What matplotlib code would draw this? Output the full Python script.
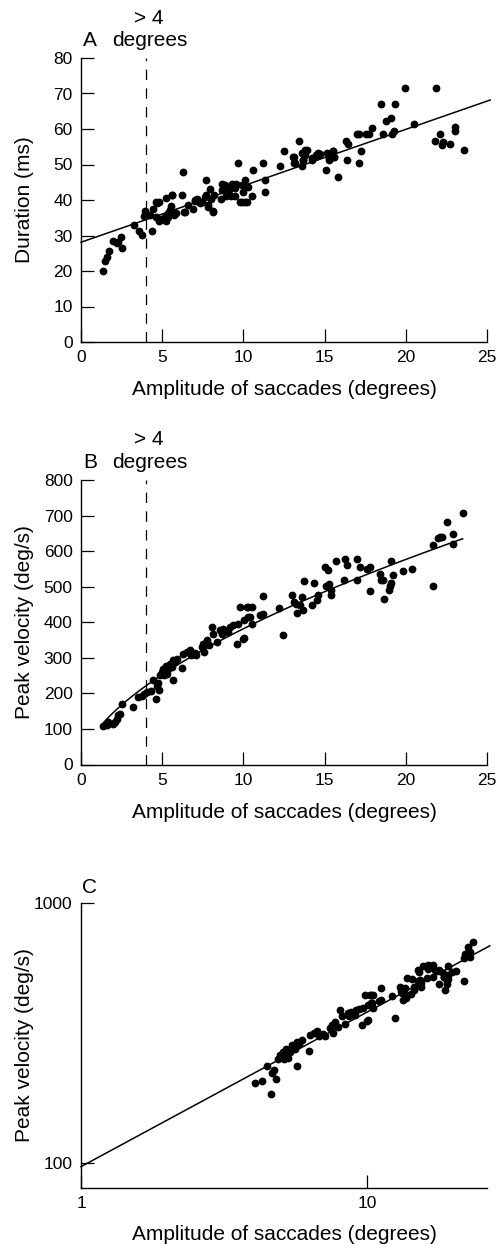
import numpy as np
import matplotlib
matplotlib.use("Agg")
import matplotlib.pyplot as plt
from matplotlib.ticker import FixedLocator, NullLocator, FixedFormatter

plt.rcParams['font.family'] = ['Liberation Sans', 'DejaVu Sans']
plt.rcParams['lines.scale_dashes'] = False

# ---- panel A: duration vs amplitude ----
amp_a = [1.37, 1.48, 1.58, 1.74, 1.99, 2.24, 2.44, 2.52, 2.3, 3.26,
         3.59, 3.73, 3.90, 3.94, 4.39, 4.25, 4.45, 4.6, 4.78, 4.64,
         4.8, 4.95, 5.21, 5.26, 5.36, 5.46, 5.57, 5.63, 5.70, 5.83,
         6.26, 6.24, 6.34, 6.61, 6.9, 7.0, 7.16, 7.42, 7.7, 7.72,
         7.82, 7.93, 8.0, 8.1, 8.2, 8.6, 8.7, 8.74, 8.95, 9.1,
         9.25, 9.46, 9.56, 9.69, 9.8, 9.89, 10.0, 10.1, 10.2, 10.3,
         10.5, 10.6, 11.2, 11.3, 11.35, 12.25, 12.5, 13.1, 13.1, 13.4,
         13.6, 13.7, 13.8, 13.9, 14.2, 14.55, 14.6, 15.1, 15.15, 15.3,
         15.5, 15.6, 15.8, 16.3, 16.4, 16.45, 17.1, 17.1, 17.25,
         4.66, 4.86, 5.17, 5.38, 5.62, 6.4, 7.02, 7.33, 7.64, 7.85,
         8.15, 8.66, 8.87, 9.28, 9.9, 10.1, 9.5,
         19.95, 21.86, 18.49, 19.33, 18.76, 19.09, 20.5, 17.75, 17.9, 18.57,
         19.15, 19.3, 17.0, 17.55, 21.8, 22.1, 22.3, 22.2, 22.7, 23.0,
         23.0, 23.6,
         13.07, 13.2, 13.6, 13.8, 13.7, 14.2, 14.5, 14.7, 15.2, 15.3,
         15.5, 15.6]
dur_a = [20.0, 22.9, 24.0, 25.5, 28.5, 27.8, 29.5, 26.4, 28.3, 33.0,
         31.4, 30.2, 35.6, 37.0, 31.2, 35.9, 37.5, 39.3, 39.3, 35.2,
         34.1, 34.6, 40.5, 34.0, 35.2, 37.2, 38.2, 41.5, 35.8, 36.2,
         47.9, 41.3, 36.7, 38.6, 37.5, 39.8, 40.4, 39.5, 45.5, 41.3,
         38.6, 43.2, 40.4, 36.8, 41.3, 40.4, 44.6, 43.2, 41.1, 42.9,
         41.0, 41.1, 44.6, 50.3, 39.5, 44.1, 42.3, 45.7, 39.5, 43.7,
         41.1, 48.5, 50.3, 42.3, 45.7, 49.5, 53.9, 50.3, 52.2, 56.6,
         49.5, 51.2, 52.6, 54.0, 51.7, 52.4, 53.1, 48.5, 53.1, 51.4,
         53.9, 52.2, 46.6, 56.6, 51.2, 55.9, 50.3, 58.6, 53.9,
         39.1, 34.4, 35.3, 36.3, 41.4, 36.7, 40.0, 39.1, 40.9, 38.1,
         36.7, 42.8, 44.2, 44.6, 39.5, 39.5, 43.3,
         71.5, 71.5, 67.0, 67.0, 62.3, 63.0, 61.5, 58.5, 60.4, 58.6,
         58.6, 59.5, 58.6, 58.5, 56.6, 58.5, 56.4, 55.5, 55.8, 60.6,
         59.3, 54.1,
         52.2, 50.3, 53.1, 54.1, 51.3, 51.3, 52.7, 53.0, 53.0, 51.7,
         53.9, 52.1]
# linear fit for duration
DUR_FIT = (28.1, 1.59)  # intercept, slope

# ---- panel B/C: peak velocity vs amplitude ----
amp_b = [1.37, 1.52, 1.68, 1.6, 1.99, 2.1, 2.2, 2.3, 2.4, 2.55,
         3.22, 3.53, 3.74, 3.9, 4.04, 4.3, 4.45, 4.6, 4.66, 4.72,
         4.8, 4.86, 4.97, 5.07, 5.13, 5.21, 5.27, 5.38, 5.48, 5.58,
         5.69, 5.79, 5.69, 5.9, 6.24, 6.3, 6.5, 6.7, 6.8, 7.0,
         7.1, 7.43, 7.53, 7.6, 7.74, 7.88, 8.05, 8.15, 8.36, 8.56,
         8.66, 8.76, 9.07, 9.17, 9.38, 9.59, 9.69, 9.79, 10.0, 10.06,
         10.3, 10.3, 10.2,
         23.5, 22.56, 22.1, 22.2, 22.0, 22.9, 22.9, 21.7, 21.7, 20.4,
         19.85, 19.2, 19.07, 19.0, 18.95, 19.1, 18.66, 18.5, 18.6, 18.4,
         17.8, 17.8, 17.6, 17.2, 17.0, 17.0, 16.36, 16.25, 16.2, 15.7,
         15.2, 15.0, 15.4, 15.4, 15.1, 15.3, 14.6, 14.55, 14.35, 14.2,
         13.75, 13.7, 13.6, 13.5, 13.3, 13.25, 13.1, 13.0, 12.46, 12.2,
         11.2, 11.2, 11.0, 10.5, 10.4, 10.5, 10.04]
vel_b = [107, 113, 119, 111, 113, 119, 129, 138, 142, 169,
         163, 190, 194, 197, 204, 208, 237, 185, 222, 228,
         210, 251, 260, 269, 251, 276, 255, 269, 284, 274,
         293, 288, 237, 297, 271, 312, 317, 322, 308, 314,
         308, 330, 340, 316, 349, 335, 387, 368, 344, 377,
         368, 382, 373, 387, 391, 340, 396, 443, 354, 405,
         443, 415, 443,
         708, 681, 639, 640, 636, 647, 620, 617, 502, 551,
         545, 532, 573, 501, 490, 510, 465, 520, 520, 537,
         488, 556, 551, 554, 579, 520, 561, 577, 518, 573,
         546, 556, 492, 476, 501, 508, 476, 462, 511, 448,
         516, 434, 471, 448, 426, 450, 458, 476, 363, 441,
         473, 423, 420, 443, 415, 396, 357]
# power-law fit V = a * A^b
VEL_FIT = (97.0, 0.595)
THRESH = 4

amp_a = np.array(amp_a); dur_a = np.array(dur_a)
amp_b = np.array(amp_b); vel_b = np.array(vel_b)

W, H = 499, 1245
fig = plt.figure(figsize=(W / 100, H / 100), dpi=100)


def make_ax(top_px, bottom_px):
    left, right = 81, 487
    ax = fig.add_axes([left / W, (H - bottom_px) / H, (right - left) / W, (bottom_px - top_px) / H])
    ax.spines['top'].set_visible(False)
    ax.spines['right'].set_visible(False)
    for s in ('left', 'bottom'):
        ax.spines[s].set_linewidth(1.0)
    ax.tick_params(direction='in', length=9.5, width=0.9, labelsize=12.5, pad=6)
    ax.tick_params(which='minor', length=0)
    return ax


MK = dict(marker='o', ls='none', color='black', markersize=4.6, clip_on=False)
LBL = 15

# ----- A -----
axA = make_ax(58, 342)
axA.set_xlim(0, 25)
axA.set_ylim(0, 80)
axA.set_xticks(np.arange(0, 26, 5))
axA.set_yticks(np.arange(0, 81, 10))
axA.axvline(THRESH, color='black', lw=0.9, ls=(0, (7.5, 6)))
xs = np.array([0, 25.2])
axA.plot(xs, DUR_FIT[0] + DUR_FIT[1] * xs, color='black', lw=1.1, clip_on=False)
axA.plot(amp_a, dur_a, **MK)
axA.set_xlabel('Amplitude of saccades (degrees)', fontsize=LBL)
axA.set_ylabel('Duration (ms)', fontsize=LBL)
axA.xaxis.set_label_coords(0.5, -0.135)
axA.yaxis.set_label_coords(-0.115, 0.5)
axA.text(0.022, 1.06, 'A', transform=axA.transAxes, ha='center', va='center', fontsize=LBL)
axA.text(0.17, 1.06, 'degrees', transform=axA.transAxes, ha='center', va='center', fontsize=LBL)
axA.text(0.168, 1.138, '> 4', transform=axA.transAxes, ha='center', va='center', fontsize=LBL)

# ----- B -----
axB = make_ax(480, 764.5)
axB.set_xlim(0, 25)
axB.set_ylim(0, 800)
axB.set_xticks(np.arange(0, 26, 5))
axB.set_yticks(np.arange(0, 801, 100))
axB.axvline(THRESH, color='black', lw=0.9, ls=(0, (7.5, 6)))
xs = np.linspace(1.4, 23.5, 100)
axB.plot(xs, VEL_FIT[0] * xs ** VEL_FIT[1], color='black', lw=1.1)
axB.plot(amp_b, vel_b, **MK)
axB.set_xlabel('Amplitude of saccades (degrees)', fontsize=LBL)
axB.set_ylabel('Peak velocity (deg/s)', fontsize=LBL)
axB.xaxis.set_label_coords(0.5, -0.135)
axB.yaxis.set_label_coords(-0.115, 0.5)
axB.text(0.022, 1.06, 'B', transform=axB.transAxes, ha='center', va='center', fontsize=LBL)
axB.text(0.17, 1.06, 'degrees', transform=axB.transAxes, ha='center', va='center', fontsize=LBL)
axB.text(0.168, 1.143, '> 4', transform=axB.transAxes, ha='center', va='center', fontsize=LBL)

# ----- C (log-log, amplitudes > 4 deg) -----
axC = make_ax(903.3, 1187.7)
axC.set_xscale('log')
axC.set_yscale('log')
axC.set_xlim(1, 26.2)
axC.set_ylim(80.5, 1000)
axC.xaxis.set_major_locator(FixedLocator([1, 10]))
axC.xaxis.set_major_formatter(FixedFormatter(['1', '10']))
axC.yaxis.set_major_locator(FixedLocator([100, 1000]))
axC.yaxis.set_major_formatter(FixedFormatter(['100', '1000']))
axC.xaxis.set_minor_locator(NullLocator())
axC.yaxis.set_minor_locator(NullLocator())
xs = np.logspace(0, np.log10(26.8), 50)
axC.plot(xs, VEL_FIT[0] * xs ** VEL_FIT[1], color='black', lw=1.1, clip_on=False)
sel = amp_b > THRESH
axC.plot(amp_b[sel], vel_b[sel], **MK)
axC.set_xlabel('Amplitude of saccades (degrees)', fontsize=LBL)
axC.set_ylabel('Peak velocity (deg/s)', fontsize=LBL)
axC.xaxis.set_label_coords(0.5, -0.13)
axC.yaxis.set_label_coords(-0.115, 0.5)
axC.text(0.022, 1.057, 'C', transform=axC.transAxes, ha='center', va='center', fontsize=LBL)

fig.savefig('out.png', dpi=100)
